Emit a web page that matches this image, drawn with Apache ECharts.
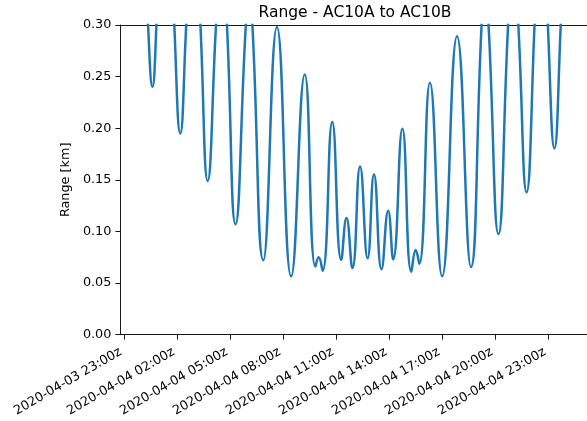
<!DOCTYPE html>
<html>
<head>
<meta charset="utf-8">
<script src="https://cdn.jsdelivr.net/npm/echarts@6/dist/echarts.min.js"></script>
<style>
  html, body { margin: 0; padding: 0; background: #fff; }
  #chart { width: 587px; height: 421px; }
</style>
</head>
<body>
<div id="chart"></div>
<script>
// time in hours since 2020-04-04 00:00z
const hours = [
  0.000, 0.365, 0.613, 0.838, 1.343, 1.849, 2.187, 2.524, 2.929, 3.328,
  3.738, 4.210, 4.519, 4.829, 5.312, 5.897, 6.082, 6.268, 6.886, 7.656,
  8.460, 9.230, 9.831, 10.017, 10.242, 10.787, 11.293, 11.591, 11.928, 12.361,
  12.788, 13.148, 13.575, 13.952, 14.233, 14.755, 15.261, 15.509, 15.711, 16.313,
  17.004, 17.847, 18.634, 19.236, 19.432, 19.629, 20.191, 20.736, 21.029, 21.315,
  21.782, 22.232, 22.608, 22.985, 23.356, 23.715, 24.000
];
// range between AC10A and AC10B, km
const rangeKm = [
  0.450, 0.300, 0.240, 0.300, 0.510, 0.300, 0.195, 0.300, 0.440, 0.300,
  0.149, 0.300, 0.386, 0.300, 0.107, 0.300, 0.332, 0.300, 0.072, 0.298,
  0.0565, 0.252, 0.066, 0.075, 0.062, 0.206, 0.0725, 0.113, 0.0645, 0.163,
  0.074, 0.1555, 0.0635, 0.120, 0.073, 0.1995, 0.061, 0.082, 0.0687, 0.244,
  0.0565, 0.289, 0.0655, 0.300, 0.338, 0.300, 0.0975, 0.300, 0.377, 0.300,
  0.138, 0.300, 0.460, 0.300, 0.1805, 0.300, 0.420
];
const tickHours = [-1, 2, 5, 8, 11, 14, 17, 20, 23];

const font = 'DejaVu Sans';
const spine = '#1a1a1a';

function fmtHour(h) {
  const d = new Date(Date.UTC(2020, 3, 4) + h * 3600 * 1000);
  return d.toISOString().slice(0, 16).replace('T', ' ') + 'z';
}

const myChart = echarts.init(document.getElementById('chart'));

const option = {
  animation: false,
  title: {
    text: 'Range - AC10A to AC10B',
    left: 355,
    textAlign: 'center',
    top: 5,
    padding: 0,
    textStyle: { fontFamily: font, fontSize: 15.5, fontWeight: 'normal', color: '#000' }
  },
  grid: {
    left: 120.4, width: 470, top: 25, bottom: 86.3
  },
  xAxis: [
    {
      type: 'value',
      min: -1.2,
      max: 25.2,
      splitLine: { show: false },
      axisLine: { onZero: false, lineStyle: { color: spine, width: 1 } },
      axisTick: { customValues: tickHours, length: 5, lineStyle: { color: spine } },
      axisLabel: {
        customValues: tickHours,
        formatter: fmtHour,
        rotate: 30,
        align: 'right',
        verticalAlign: 'bottom',
        margin: 22,
        fontFamily: font,
        fontSize: 12.8,
        color: '#000'
      }
    },
    {
      // top spine only
      type: 'value',
      position: 'top',
      min: -1.2,
      max: 25.2,
      splitLine: { show: false },
      axisLine: { onZero: false, lineStyle: { color: spine, width: 1 } },
      axisTick: { show: false },
      axisLabel: { show: false }
    }
  ],
  yAxis: {
    type: 'value',
    min: 0,
    max: 0.3,
    interval: 0.05,
    name: 'Range [km]',
    nameLocation: 'middle',
    nameGap: 41,
    nameTextStyle: { fontFamily: font, fontSize: 12.8, color: '#000' },
    splitLine: { show: false },
    axisLine: { show: true, onZero: false, lineStyle: { color: spine, width: 1 } },
    axisTick: { show: true, length: 5, lineStyle: { color: spine } },
    axisLabel: {
      formatter: v => v.toFixed(2),
      margin: 9,
      fontFamily: font,
      fontSize: 12.8,
      color: '#000'
    }
  },
  series: [
    {
      type: 'line',
      xAxisIndex: 0,
      data: hours.map((h, i) => [h, rangeKm[i]]),
      smooth: true,
      showSymbol: false,
      clip: true,
      lineStyle: { color: '#1f77b4', width: 2.5 }
    }
  ]
};

myChart.setOption(option);
</script>
</body>
</html>
